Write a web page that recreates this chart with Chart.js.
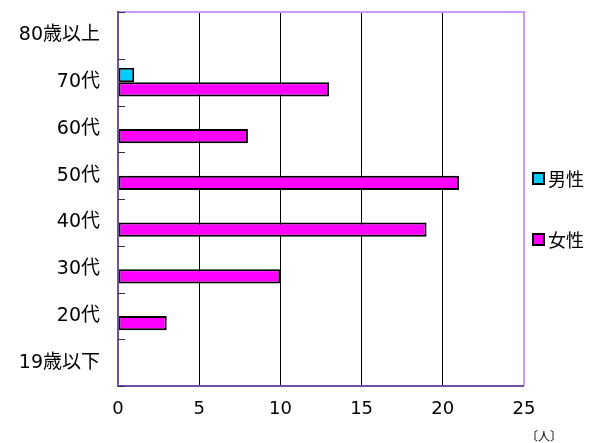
<!DOCTYPE html>
<html>
<head>
<meta charset="utf-8">
<script src="https://cdn.jsdelivr.net/npm/chart.js@4"></script>
<style>
  body { margin: 0; background: #fff; }
  #wrap { position: relative; width: 594px; height: 443px; font-family: "DejaVu Sans", "Noto Sans CJK JP", sans-serif; }
  .leg { position: absolute; left: 532px; font-size: 18px; color: #000; line-height: 22px; }
  .leg span { display: inline-block; width: 9px; height: 9px; border: 2px solid #000; margin-right: 3px; vertical-align: 1px; }
  #unit { position: absolute; left: 526px; top: 427px; font-size: 12px; color: #000; }
</style>
</head>
<body>
<div id="wrap">
  <canvas id="chart" width="594" height="443"></canvas>
  <div class="leg" style="top:169px"><span style="background:#00ccff"></span>男性</div>
  <div class="leg" style="top:230px"><span style="background:#ff00ff"></span>女性</div>
  <div id="unit">〔人〕</div>
</div>
<script>
const ageGroups = ["80歳以上", "70代", "60代", "50代", "40代", "30代", "20代", "19歳以下"];
const maleCounts = [0, 1, 0, 0, 0, 0, 0, 0];
const femaleCounts = [0, 13, 8, 21, 19, 10, 3, 0];
const xTicks = [0, 5, 10, 15, 20, 25];

const yFont = { family: "'DejaVu Sans', 'Noto Sans CJK JP', sans-serif", size: 19 };
const xFont = { family: "'DejaVu Sans', sans-serif", size: 18 };

const frame = {
    id: "frame",
    afterDraw(chart) {
        const a = chart.chartArea;
        const ctx = chart.ctx;
        ctx.save();
        ctx.lineWidth = 2;
        ctx.strokeStyle = "#cc99ff";
        ctx.beginPath();
        ctx.moveTo(a.left, a.top);
        ctx.lineTo(a.right, a.top);
        ctx.lineTo(a.right, a.bottom);
        ctx.stroke();
        ctx.strokeStyle = "#7050a8";
        ctx.beginPath();
        ctx.moveTo(a.left, a.top - 1);
        ctx.lineTo(a.left, a.bottom);
        ctx.lineTo(a.right, a.bottom);
        ctx.stroke();
        // small tick marks at category boundaries
        ctx.lineWidth = 1;
        ctx.strokeStyle = "#333";
        const step = (a.bottom - a.top) / ageGroups.length;
        for (let i = 0; i <= ageGroups.length; i++) {
            const y = Math.round(a.top + i * step) + 0.5;
            ctx.beginPath();
            ctx.moveTo(a.left, y);
            ctx.lineTo(a.left + 7, y);
            ctx.stroke();
        }
        ctx.restore();
    }
};

new Chart(document.getElementById("chart"), {
    type: "bar",
    data: {
        labels: ageGroups,
        datasets: [{
            label: "男性",
            data: maleCounts,
            backgroundColor: "#00ccff",
            borderColor: "#000",
            borderWidth: 2,
            borderSkipped: false,
            categoryPercentage: 0.62,
            barPercentage: 1
        }, {
            label: "女性",
            data: femaleCounts,
            backgroundColor: "#ff00ff",
            borderColor: "#000",
            borderWidth: 2,
            borderSkipped: false,
            categoryPercentage: 0.62,
            barPercentage: 1
        }]
    },
    options: {
        indexAxis: "y",
        responsive: false,
        animation: false,
        layout: { padding: { top: 12, right: 70, left: 0, bottom: 0 } },
        plugins: { legend: { display: false }, tooltip: { enabled: false } },
        scales: {
            x: {
                min: 0,
                max: 25,
                afterBuildTicks: (s) => { s.ticks = xTicks.map(v => ({ value: v })); },
                afterFit: (s) => { s.height = 57; s.paddingLeft = 0; s.paddingRight = 0; },
                grid: {
                    color: (c) => (c.index === 0 || c.index === xTicks.length - 1) ? "rgba(0,0,0,0)" : "#000",
                    lineWidth: 1,
                    drawTicks: false
                },
                border: { display: false },
                ticks: {
                    color: "#000",
                    padding: 13,
                    font: xFont
                }
            },
            y: {
                afterFit: (s) => { s.width = 118; s.paddingTop = 0; s.paddingBottom = 0; },
                grid: { display: false },
                border: { display: false },
                ticks: {
                    color: "#000",
                    padding: 10,
                    font: yFont
                }
            }
        }
    },
    plugins: [frame]
});
</script>
</body>
</html>
